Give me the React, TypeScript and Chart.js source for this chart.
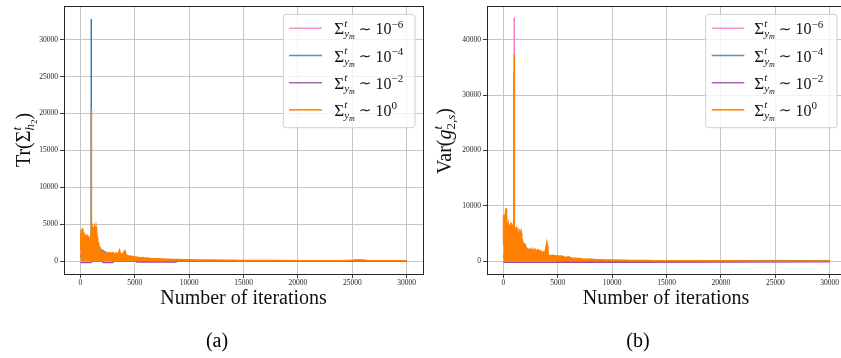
import { useEffect, useRef } from 'react';
import { Chart, registerables } from 'chart.js';

Chart.register(...registerables);

const SERIF = '"Liberation Serif", "Times New Roman", "DejaVu Serif", serif';

// Run order: Σ_ym^t ∼ 1e-6, 1e-4, 1e-2, 1e0
const EXPONENTS = ['\u22126', '\u22124', '\u22122', '0'];
const COLORS = ['#f781bf', '#377eb8', '#984ea3', '#ff7f00'];

const X_TICKS = [0, 5000, 10000, 15000, 20000, 25000, 30000];
const TR_Y_TICKS = [0, 5000, 10000, 15000, 20000, 25000, 30000];
const VAR_Y_TICKS = [0, 10000, 20000, 30000, 40000];

// (a) Tr(Σ_h2^t) — [iteration, value]
const TR_E6: [number, number][] = [
  [0, 800], [500, 1500], [980, 2500], [1000, 3000], [1020, 2000], [3000, 600], [5000, 100], [30000, 40],
];
const TR_E4: [number, number][] = [
  [0, 600], [500, 1200], [990, 2000], [1000, 32800], [1010, 2500], [3000, 500], [5000, 100], [30000, 40],
];
const TR_E2: [number, number][] = [
  [0, -150], [1000, -150], [1100, 40], [2000, 40], [2100, -150], [3000, -150], [3100, 40],
  [5100, 40], [5200, -110], [8800, -110], [8900, 40], [30000, 40],
];
const TR_E0: [number, number][] = [
  [0, 1500], [30, 3800], [60, 2600], [100, 4300], [150, 3400], [200, 4500], [250, 3900],
  [300, 3300], [350, 3600], [400, 3200], [450, 3400], [500, 2700], [550, 3300], [600, 3100],
  [650, 3350], [700, 2900], [750, 3300], [800, 3200], [850, 2400], [900, 3100], [950, 3500],
  [985, 4000], [1000, 20600], [1015, 5900], [1050, 5400], [1100, 4600], [1150, 3900],
  [1200, 3300], [1250, 4200], [1300, 4700], [1350, 4300], [1400, 3800], [1450, 4600],
  [1500, 4000], [1550, 3200], [1600, 2700], [1650, 2500], [1700, 2100], [1800, 1900],
  [1900, 1500], [2000, 1250], [2100, 1150], [2200, 1050], [2300, 1250], [2400, 1000],
  [2500, 1100], [2600, 1200], [2700, 1050], [2800, 1150], [2900, 1000], [3000, 1200],
  [3100, 1050], [3200, 950], [3300, 1150], [3400, 1000], [3500, 1100], [3600, 1500],
  [3700, 1000], [3800, 900], [3900, 1050], [4000, 1300], [4100, 1450], [4200, 900],
  [4300, 800], [4400, 750], [4600, 700], [4800, 650], [5000, 600], [5200, 550], [5400, 500],
  [5600, 480], [5800, 520], [6000, 420], [6200, 440], [6500, 360], [7000, 330], [7500, 300],
  [8000, 280], [8500, 260], [9000, 230], [9500, 210], [10000, 200], [11000, 180], [12000, 160],
  [13000, 140], [14000, 130], [15000, 120], [16000, 110], [18000, 100], [20000, 90],
  [22000, 85], [24000, 80], [25000, 150], [25500, 200], [26000, 180], [26500, 80],
  [28000, 70], [30000, 60],
];

// (b) Var(g_2,s^t) — [iteration, value]
const VAR_E6: [number, number][] = [
  [0, 1000], [500, 2000], [990, 3000], [1000, 44000], [1010, 3000], [3000, 800], [5000, 100], [30000, 40],
];
const VAR_E4: [number, number][] = [
  [0, 800], [500, 1800], [990, 2500], [1000, 34000], [1010, 2500], [3000, 700], [5000, 100], [30000, 40],
];
const VAR_E2: [number, number][] = [
  [0, -150], [12000, -150], [30000, -100],
];
const VAR_E0: [number, number][] = [
  [0, 3000], [20, 8350], [100, 7000], [150, 8000], [250, 9560], [300, 8200], [350, 6500],
  [400, 6200], [450, 6700], [500, 5600], [550, 6300], [600, 6600], [650, 6000], [700, 6850],
  [750, 6800], [800, 6500], [900, 4400], [950, 6700], [985, 6500], [1000, 37300], [1030, 5000],
  [1100, 4500], [1150, 5900], [1200, 6100], [1250, 5800], [1300, 4600], [1350, 5200],
  [1400, 4300], [1450, 5000], [1500, 5800], [1550, 4900], [1600, 4400], [1650, 5100],
  [1700, 4200], [1800, 3300], [1900, 3200], [2000, 3100], [2100, 2500], [2200, 2300],
  [2300, 2100], [2400, 2200], [2500, 2000], [2600, 2300], [2700, 1900], [2800, 2100],
  [2900, 2200], [3000, 1800], [3100, 2000], [3200, 2100], [3300, 1700], [3400, 1900],
  [3500, 1800], [3600, 1500], [3700, 1700], [3800, 1400], [3900, 2300], [4000, 3400],
  [4050, 2800], [4100, 1300], [4200, 1100], [4400, 1000], [4600, 1100], [4800, 950],
  [5000, 1000], [5200, 900], [5400, 950], [5600, 800], [5800, 700], [6000, 860], [6100, 700],
  [6300, 600], [6600, 550], [7000, 500], [7300, 420], [7600, 380], [8000, 400], [8500, 300],
  [9000, 270], [9500, 250], [10000, 230], [11000, 180], [12000, 150], [13000, 130],
  [14000, 110], [15000, 100], [17000, 90], [20000, 80], [23000, 70], [26000, 60], [30000, 50],
];

type Run = { t: string; size: number; dy?: number; it?: boolean; fam?: string };
type Piece = Run | { stack: Run[][] } | { gap: number };

const fontOf = (r: Run) => `${r.it ? 'italic ' : ''}${r.size}px ${r.fam ?? SERIF}`;

function runsWidth(ctx: CanvasRenderingContext2D, runs: Run[]) {
  let w = 0;
  for (const r of runs) {
    ctx.font = fontOf(r);
    w += ctx.measureText(r.t).width;
  }
  return w;
}

function pieceWidth(ctx: CanvasRenderingContext2D, p: Piece) {
  if ('gap' in p) return p.gap;
  if ('stack' in p) return Math.max(...p.stack.map((rs) => runsWidth(ctx, rs)));
  return runsWidth(ctx, [p]);
}

function piecesWidth(ctx: CanvasRenderingContext2D, pieces: Piece[]) {
  return pieces.reduce((s, p) => s + pieceWidth(ctx, p), 0);
}

function drawRuns(ctx: CanvasRenderingContext2D, runs: Run[], x: number, y: number) {
  for (const r of runs) {
    ctx.font = fontOf(r);
    ctx.fillText(r.t, x, y + (r.dy ?? 0));
    x += ctx.measureText(r.t).width;
  }
}

function drawPieces(ctx: CanvasRenderingContext2D, pieces: Piece[], x: number, y: number) {
  ctx.textAlign = 'left';
  ctx.textBaseline = 'alphabetic';
  for (const p of pieces) {
    if ('gap' in p) {
      x += p.gap;
    } else if ('stack' in p) {
      for (const rs of p.stack) drawRuns(ctx, rs, x, y);
      x += pieceWidth(ctx, p);
    } else {
      drawRuns(ctx, [p], x, y);
      x += pieceWidth(ctx, p);
    }
  }
}

const legendLabel = (exp: string): Piece[] => [
  { t: '\u03a3', size: 17 },
  {
    stack: [
      [{ t: 't', size: 11, dy: -7.5, it: true }],
      [{ t: 'y', size: 11, dy: 3, it: true }, { t: 'm', size: 8, dy: 5, it: true }],
    ],
  },
  { gap: 4 },
  { t: '\u223c', size: 15, fam: '"DejaVu Sans", sans-serif', dy: -0.5 },
  { gap: 4 },
  { t: '10', size: 16 },
  { t: exp, size: 11, dy: -6.5 },
];

const TR_TITLE: Piece[] = [
  { t: 'Tr(', size: 20 },
  { t: '\u03a3', size: 20 },
  {
    stack: [
      [{ t: 't', size: 13, dy: -9, it: true }],
      [{ t: 'h', size: 13, dy: 4, it: true }, { t: '2', size: 9, dy: 7 }],
    ],
  },
  { t: ')', size: 20 },
];

const VAR_TITLE: Piece[] = [
  { t: 'Var(', size: 20 },
  { t: 'g', size: 20, it: true },
  {
    stack: [
      [{ t: 't', size: 13, dy: -9, it: true }],
      [{ t: '2,', size: 13, dy: 4 }, { t: 's', size: 13, dy: 4, it: true }],
    ],
  },
  { t: ')', size: 20 },
];

type Panel = {
  left: number;
  width: number;
  padRight: number;
  yAxisWidth: number;
  xMin: number;
  xMax: number;
  yMin: number;
  yMax: number;
  yTicks: number[];
  series: [number, number][][];
  yTitle: Piece[];
  yTitleX: number;
  yTitleY: number;
  xTitleX: number;
  legend: { x: number; y: number; w: number; h: number; l0: number; l1: number; tx: number };
  caption: string;
  captionX: number;
};

const HEIGHT = 358;
const AREA_TOP = 6;
const AREA_BOTTOM = 274;

const PANELS: Panel[] = [
  {
    left: 0, width: 430, padRight: 7, yAxisWidth: 64,
    xMin: -1500, xMax: 31500, yMin: -1718, yMax: 34548, yTicks: TR_Y_TICKS,
    series: [TR_E6, TR_E4, TR_E2, TR_E0],
    yTitle: TR_TITLE, yTitleX: 30, yTitleY: 140, xTitleX: 243.5,
    legend: { x: 283.3, y: 14.3, w: 131.7, h: 113.4, l0: 289, l1: 322, tx: 334.3 },
    caption: '(a)', captionX: 217,
  },
  {
    left: 430, width: 411, padRight: 0, yAxisWidth: 57,
    xMin: -1500, xMax: 31040, yMin: -2291, yMax: 46064, yTicks: VAR_Y_TICKS,
    series: [VAR_E6, VAR_E4, VAR_E2, VAR_E0],
    yTitle: VAR_TITLE, yTitleX: 21, yTitleY: 141, xTitleX: 236,
    legend: { x: 275.7, y: 14.3, w: 131.3, h: 113.4, l0: 281.7, l1: 314.3, tx: 324.3 },
    caption: '(b)', captionX: 208,
  },
];

function decorPlugin(p: Panel) {
  return {
    id: 'panelDecor',
    afterDraw(chart: Chart) {
      const ctx = chart.ctx;
      const a = chart.chartArea;
      ctx.save();

      // axes frame
      ctx.strokeStyle = '#262626';
      ctx.lineWidth = 1;
      ctx.strokeRect(a.left + 0.5, a.top + 0.5, a.right - a.left, a.bottom - a.top);

      // legend
      const L = p.legend;
      ctx.beginPath();
      ctx.roundRect(L.x, L.y, L.w, L.h, 3);
      ctx.globalAlpha = 0.8;
      ctx.fillStyle = '#ffffff';
      ctx.fill();
      ctx.globalAlpha = 1;
      ctx.strokeStyle = '#d0d0d0';
      ctx.lineWidth = 1;
      ctx.stroke();
      EXPONENTS.forEach((e, i) => {
        const y = 28.3 + i * 27.2;
        ctx.globalAlpha = 0.85;
        ctx.strokeStyle = COLORS[i];
        ctx.lineWidth = 1.6;
        ctx.beginPath();
        ctx.moveTo(L.l0, y);
        ctx.lineTo(L.l1, y);
        ctx.stroke();
        ctx.globalAlpha = 1;
        ctx.fillStyle = '#111';
        drawPieces(ctx, legendLabel(e), L.tx, y + 6);
      });

      // axis titles
      ctx.fillStyle = '#111';
      ctx.font = `20px ${SERIF}`;
      ctx.textAlign = 'center';
      ctx.textBaseline = 'alphabetic';
      ctx.fillText('Number of iterations', p.xTitleX, 304);

      ctx.save();
      ctx.translate(p.yTitleX, p.yTitleY);
      ctx.rotate(-Math.PI / 2);
      const w = piecesWidth(ctx, p.yTitle);
      drawPieces(ctx, p.yTitle, -w / 2, 0);
      ctx.restore();

      // caption
      ctx.font = `20px ${SERIF}`;
      ctx.textAlign = 'center';
      ctx.fillStyle = '#000';
      ctx.fillText(p.caption, p.captionX, 347);

      ctx.restore();
    },
  };
}

function PanelChart({ p }: { p: Panel }) {
  const ref = useRef<HTMLCanvasElement>(null);

  useEffect(() => {
    if (!ref.current) return;
    const tickFont = { family: SERIF, size: 7.5 };
    const datasets = p.series.map((pts, i) => ({
      data: pts.map(([x, y]) => ({ x, y })),
      borderColor: COLORS[i],
      backgroundColor: COLORS[i],
      borderWidth: 1.5,
      pointRadius: 0,
      tension: 0,
      fill: i === 3 ? 'origin' : false,
      order: 3 - i,
    }));
    const chart = new Chart(ref.current, {
      type: 'line',
      data: { datasets },
      options: {
        animation: false,
        responsive: false,
        maintainAspectRatio: false,
        devicePixelRatio: 1,
        events: [],
        layout: { autoPadding: false, padding: { left: 0, right: p.padRight, top: AREA_TOP, bottom: 0 } },
        plugins: { legend: { display: false }, tooltip: { enabled: false } },
        scales: {
          x: {
            type: 'linear',
            min: p.xMin,
            max: p.xMax,
            afterBuildTicks: (s: any) => {
              s.ticks = X_TICKS.map((v) => ({ value: v }));
            },
            afterFit: (s: any) => {
              s.height = HEIGHT - AREA_BOTTOM;
              s.paddingLeft = 0;
              s.paddingRight = 0;
            },
            ticks: {
              font: tickFont,
              color: '#262626',
              padding: 1,
              maxRotation: 0,
              autoSkip: false,
              callback: (v: any) => String(v),
            },
            grid: { color: '#bfbfbf', lineWidth: 0.9, tickLength: 4, tickColor: '#262626', tickWidth: 0.9 },
            border: { display: false },
          },
          y: {
            type: 'linear',
            min: p.yMin,
            max: p.yMax,
            afterBuildTicks: (s: any) => {
              s.ticks = p.yTicks.map((v) => ({ value: v }));
            },
            afterFit: (s: any) => {
              s.width = p.yAxisWidth;
              s.paddingTop = 0;
              s.paddingBottom = 0;
            },
            ticks: {
              font: tickFont,
              color: '#262626',
              padding: 2,
              autoSkip: false,
              callback: (v: any) => String(v),
            },
            grid: { color: '#bfbfbf', lineWidth: 0.9, tickLength: 4, tickColor: '#262626', tickWidth: 0.9 },
            border: { display: false },
          },
        },
      },
      plugins: [decorPlugin(p)],
    } as any);
    return () => chart.destroy();
  }, [p]);

  return (
    <canvas
      ref={ref}
      width={p.width}
      height={HEIGHT}
      style={{ position: 'absolute', left: p.left, top: 0, width: p.width, height: HEIGHT }}
    />
  );
}

export default function App() {
  return (
    <div style={{ position: 'absolute', left: 0, top: 0, width: 841, height: HEIGHT, background: '#fff', overflow: 'hidden' }}>
      {PANELS.map((p) => (
        <PanelChart key={p.caption} p={p} />
      ))}
    </div>
  );
}
